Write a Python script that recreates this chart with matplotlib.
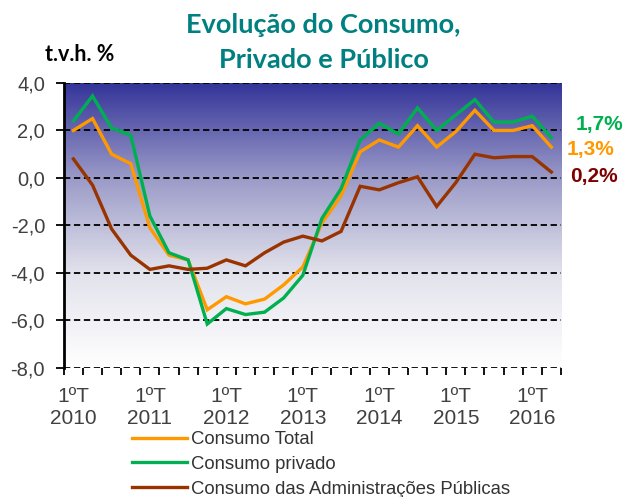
import matplotlib
matplotlib.use("Agg")
import matplotlib.pyplot as plt
import numpy as np
from matplotlib.colors import LinearSegmentedColormap

quarters = [f"{q}T {y}" for y in range(2010, 2017) for q in range(1, 5)][:26]
tick_labels = ["1ºT\n2010", "1ºT\n2011", "1ºT\n2012", "1ºT\n2013", "1ºT\n2014", "1ºT\n2015", "1ºT\n2016"]

consumo_total = [2.0, 2.5, 1.0, 0.6, -2.1, -3.25, -3.45, -5.55, -5.0, -5.3, -5.1, -4.5, -3.75,
                 -1.9, -0.75, 1.1, 1.6, 1.3, 2.2, 1.3, 1.95, 2.85, 2.0, 2.0, 2.2, 1.3]
consumo_privado = [2.4, 3.45, 2.1, 1.8, -1.6, -3.15, -3.45, -6.15, -5.5, -5.75, -5.65, -5.05, -4.1,
                   -1.7, -0.45, 1.6, 2.3, 1.85, 2.95, 2.0, 2.65, 3.3, 2.35, 2.35, 2.6, 1.7]
consumo_ap = [0.8, -0.3, -2.15, -3.25, -3.85, -3.7, -3.85, -3.8, -3.45, -3.7, -3.15, -2.7, -2.45,
              -2.65, -2.25, -0.35, -0.5, -0.2, 0.05, -1.2, -0.2, 1.0, 0.85, 0.9, 0.9, 0.25]

series_names = ["Consumo Total", "Consumo privado", "Consumo das Administrações Públicas"]
colors = ["#FF9900", "#00B050", "#993300"]
end_labels = ["1,3%", "1,7%", "0,2%"]
end_colors = ["#FF9900", "#00B050", "#800000"]

fig = plt.figure(figsize=(6.26, 4.97), dpi=100)
ax = fig.add_axes([0.102, 0.2596, 0.794, 0.5735])

n = len(quarters)
x = np.arange(n)
ax.set_xlim(-0.5, n - 0.5)
ax.set_ylim(-8, 4)

# gradient background (dark blue at top to white at bottom)
cmap = LinearSegmentedColormap.from_list("bg", ["#333399", "#9a9ac8", "#e2e2ec", "#ffffff"])
grad = np.linspace(0, 1, 256).reshape(-1, 1)
ax.imshow(grad, cmap=cmap, aspect="auto", extent=(-0.5, n - 0.5, -8, 4), zorder=0,
          vmin=0, vmax=1, origin="upper")

for yv in [-8, -6, -4, -2, 0, 2, 4]:
    ax.axhline(yv, color="black", lw=1.3, ls=(0, (3.5, 2)), zorder=1)

series = [consumo_total, consumo_privado, consumo_ap]
lines = []
for vals, c, name in zip(series, colors, series_names):
    l, = ax.plot(x, vals, color=c, lw=2.4, label=name, zorder=3, solid_joinstyle="miter")
    lines.append(l)

for s in ["top", "right", "bottom"]:
    ax.spines[s].set_visible(False)
ax.spines["left"].set_linewidth(2)
ax.spines["left"].set_zorder(4)

yt = [-8, -6, -4, -2, 0, 2, 4]
ax.set_yticks(yt)
ax.set_yticklabels([f"{v:.1f}".replace(".", ",") for v in yt],
                   fontfamily="Liberation Sans", fontsize=14.5, color="#404040")
ax.tick_params(axis="y", direction="out", length=5.5, width=1.3, color="black", pad=8)

ax.set_xticks(x[::4])
ax.set_xticklabels(tick_labels, fontfamily="Liberation Sans", fontsize=15, color="#404040",
                   linespacing=1.15)
ax.set_xticks(np.arange(-0.5, n, 1), minor=True)
ax.tick_params(axis="x", which="major", length=0, pad=14)
ax.tick_params(axis="x", which="minor", direction="out", length=5, width=1.3, color="black")

fig.text(0.517, 1 - 33 / 497, "Evolução do Consumo,", ha="center", va="baseline",
         fontfamily="Lato", fontweight="bold", fontsize=19.5, color="#008080")
fig.text(0.517, 1 - 68 / 497, "Privado e Público", ha="center", va="baseline",
         fontfamily="Lato", fontweight="bold", fontsize=19.5, color="#008080")
fig.text(0.072, 1 - 61 / 497, "t.v.h. %", ha="left", va="baseline", fontfamily="Lato",
         fontweight="bold", fontsize=15.5, color="black")

ypos = [0.700, 0.7505, 0.644]
xpos = [0.981, 0.995, 0.987]
for lab, c, yp, xp in zip(end_labels, end_colors, ypos, xpos):
    fig.text(xp, yp, lab, ha="right", va="center", fontfamily="Liberation Sans",
             fontweight="bold", fontsize=15, color=c)

leg = fig.legend(handles=lines, labels=series_names, loc="upper left",
                 bbox_to_anchor=(0.211, 1 - 431 / 497), frameon=False, handlelength=2.95,
                 handletextpad=0.24, labelspacing=0.42, borderaxespad=0, borderpad=0,
                 prop={"family": "Liberation Sans", "size": 13.3})
for t in leg.get_texts():
    t.set_color("#333333")

fig.savefig("out.png", dpi=100)
